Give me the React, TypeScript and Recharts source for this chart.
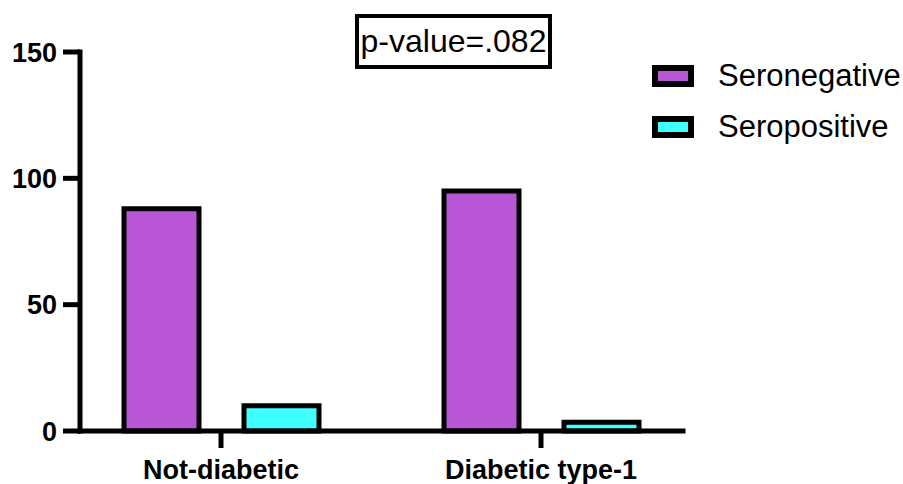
import { Bar, BarChart, XAxis, YAxis } from "recharts";

const groups = ["Not-diabetic", "Diabetic type-1"];
const seronegative = [88, 95];
const seropositive = [10, 3.5];
const yTicks = [0, 50, 100, 150];

const seriesInfo = [
  { key: "seronegative", name: "Seronegative", color: "#B956D6" },
  { key: "seropositive", name: "Seropositive", color: "#40FFFF" },
];

const font = "'Liberation Sans', Arial, Helvetica, sans-serif";

const data = groups.map((g, i) => ({
  group: g,
  seronegative: seronegative[i],
  seropositive: seropositive[i],
}));

function LegendBox() {
  return (
    <div style={{ position: "absolute", left: 652, top: 50, fontFamily: font }}>
      {seriesInfo.map((s) => (
        <div
          key={s.key}
          style={{ display: "flex", alignItems: "center", height: 51 }}
        >
          <div
            style={{
              width: 42,
              height: 22,
              boxSizing: "border-box",
              border: "6px solid #000",
              background: s.color,
              marginRight: 24,
            }}
          />
          <span style={{ fontSize: 31, color: "#000", lineHeight: "31px", whiteSpace: "nowrap" }}>
            {s.name}
          </span>
        </div>
      ))}
    </div>
  );
}

export default function App() {
  const tickStyle = { fontSize: 27, fontWeight: 700, fill: "#000", fontFamily: font };
  const axisLine = { stroke: "#000", strokeWidth: 5, strokeLinecap: "square" as const };
  const tickLine = { stroke: "#000", strokeWidth: 5 };

  return (
    <div style={{ position: "absolute", left: 0, top: 0, width: 903, height: 484, background: "#fff" }}>
      <BarChart
        width={903}
        height={484}
        data={data}
        margin={{ top: 52, right: 220, bottom: 0, left: 0 }}
        barSize={75}
        barGap={45}
      >
        <XAxis
          dataKey="group"
          height={53}
          padding={{ left: -19, right: -18 }}
          axisLine={axisLine}
          tickLine={tickLine}
          tickSize={17}
          tickMargin={12}
          tick={tickStyle}
          interval={0}
        />
        <YAxis
          width={80}
          domain={[0, 150]}
          ticks={yTicks}
          interval={0}
          axisLine={axisLine}
          tickLine={tickLine}
          tickSize={17}
          tickMargin={6}
          tick={tickStyle}
        />
        {seriesInfo.map((s) => (
          <Bar
            key={s.key}
            dataKey={s.key}
            name={s.name}
            fill={s.color}
            stroke="#000"
            strokeWidth={5}
            isAnimationActive={false}
          />
        ))}
      </BarChart>
      <LegendBox />
      <div
        style={{
          position: "absolute",
          left: 355,
          top: 14,
          width: 197,
          height: 55,
          boxSizing: "border-box",
          border: "4px solid #000",
          display: "flex",
          alignItems: "center",
          justifyContent: "center",
          fontFamily: font,
          fontSize: 32,
          color: "#000",
          background: "#fff",
          whiteSpace: "nowrap",
        }}
      >
        p-value=.082
      </div>
    </div>
  );
}
